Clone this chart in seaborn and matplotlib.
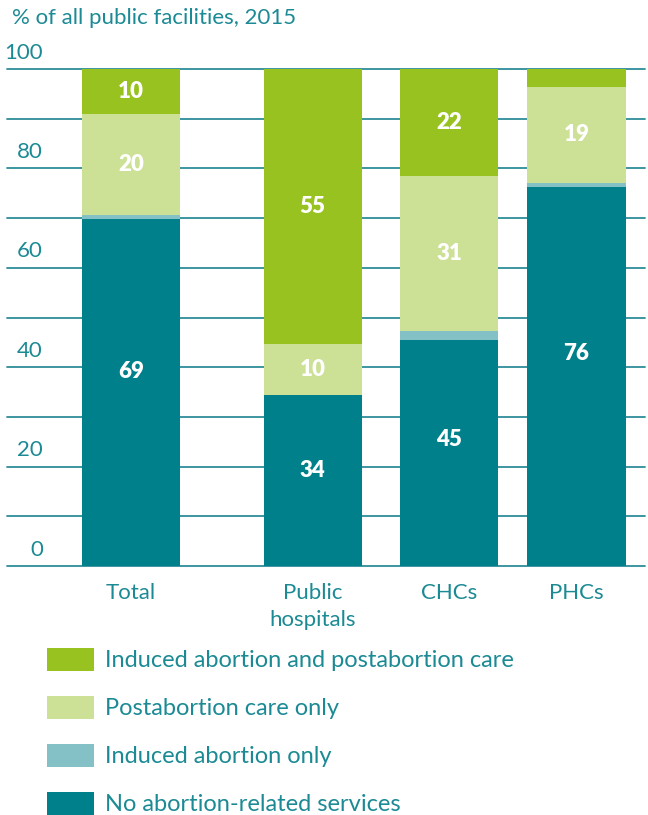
import matplotlib
matplotlib.use("Agg")
import matplotlib.pyplot as plt
import matplotlib.transforms as mtransforms
from matplotlib.patches import Patch
import numpy as np
import pandas as pd
import seaborn as sns

# ---- data ----
facilities = ["Total", "Public\nhospitals", "CHCs", "PHCs"]
no_services = [69.8, 34.4, 45.5, 76.3]
induced_only = [0.8, 0.0, 1.8, 0.8]
postabortion_only = [20.3, 10.3, 31.2, 19.3]
both_services = [9.1, 55.3, 21.5, 3.6]
no_services_labels = ["69", "34", "45", "76"]
postabortion_labels = ["20", "10", "31", "19"]
both_labels = ["10", "55", "22", ""]
series_names = ["Induced abortion and postabortion care", "Postabortion care only",
                "Induced abortion only", "No abortion-related services"]
y_ticks = [0, 20, 40, 60, 80, 100]
title = "% of all public facilities, 2015"

# ---- layout / style ----
x_pos = [0.0, 1.424, 2.494, 3.494]
bar_width = 0.77
c_dark = "#00808A"
c_lteal = "#84C1C7"
c_lgreen = "#CCE096"
c_green = "#98C21F"
txt = "#1C8A94"
grid_c = "#2E8E99"

sns.set_theme(style="white")
plt.rcParams["font.family"] = ["Lato", "DejaVu Sans"]

fig = plt.figure(figsize=(6.48, 8.15), dpi=100)
ax = fig.add_axes([7 / 648, (815 - 566) / 815, 638 / 648, 497 / 815])

teal = np.array(no_services)
ia = np.array(induced_only)
pac = np.array(postabortion_only)
both = np.array(both_services)

cum_layers = [
    (teal + ia + pac + both, c_green),
    (teal + ia + pac, c_lgreen),
    (teal + ia, c_lteal),
    (teal, c_dark),
]
for vals, col in cum_layers:
    df = pd.DataFrame({"x": x_pos, "y": vals})
    sns.barplot(data=df, x="x", y="y", native_scale=True, width=bar_width,
                color=col, saturation=1, errorbar=None, linewidth=0,
                ax=ax, zorder=3)

ax.set_xlim(-0.973, 4.031)
ax.set_ylim(0, 100)
for s in ax.spines.values():
    s.set_visible(False)
ax.set_xlabel("")
ax.set_ylabel("")

# gridlines
ax.set_yticks(np.arange(0, 101, 10))
ax.yaxis.grid(True, color=grid_c, linewidth=1.3, zorder=0)
ax.xaxis.grid(False)
ax.set_axisbelow(True)
ax.tick_params(axis="y", length=0, labelleft=False)
for gl in ax.get_ygridlines():
    gl.set_clip_on(False)

# y tick labels above gridlines, right-aligned
trans = mtransforms.blended_transform_factory(ax.transAxes, ax.transData)
for v in y_ticks:
    ax.text((43 - 7) / 638, v + 3.3, str(v), transform=trans, ha="right",
            va="center", fontsize=16, color=txt)

# category labels
ax.set_xticks(x_pos)
ax.set_xticklabels(facilities, fontsize=16, color=txt, linespacing=1.45)
ax.tick_params(axis="x", length=0, pad=12)

# value labels
lab_kw = dict(ha="center", va="center", color="white", fontsize=16,
              fontweight="heavy", zorder=5)
for i, x in enumerate(x_pos):
    ax.text(x, teal[i] * 0.56, no_services_labels[i], **lab_kw)
    ax.text(x, teal[i] + ia[i] + pac[i] / 2, postabortion_labels[i], **lab_kw)
    if both_labels[i]:
        ax.text(x, 100 - both[i] / 2, both_labels[i], **lab_kw)

# title
fig.text(12 / 648, 1 - 18 / 815, title, ha="left", va="center",
         fontsize=16, color=txt)

# legend
handles = [Patch(facecolor=c, edgecolor="none") for c in
           [c_green, c_lgreen, c_lteal, c_dark]]
leg = fig.legend(handles, series_names, loc="upper left",
                 bbox_to_anchor=(40 / 648, 1 - 641 / 815), frameon=False,
                 fontsize=17, handlelength=2.0, handleheight=1.1,
                 handletextpad=0.45, labelspacing=1.04, borderaxespad=0,
                 borderpad=0.3)
for t in leg.get_texts():
    t.set_color(txt)

fig.savefig("out.png", dpi=100)
